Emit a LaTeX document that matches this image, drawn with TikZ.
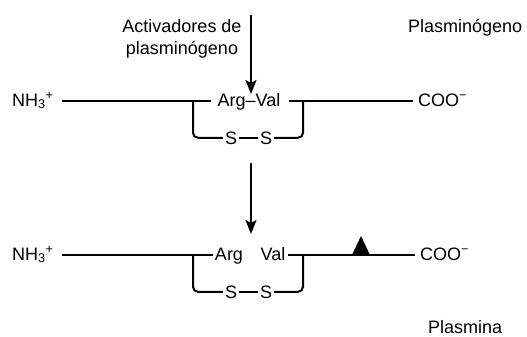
\documentclass[tikz,border=0pt]{standalone}
\usepackage{fontspec}
\setmainfont{Liberation Sans}
\usetikzlibrary{arrows.meta}
\begin{document}
\begin{tikzpicture}[x=1pt,y=-1pt,
  lbl/.style={inner sep=0pt, font=\fontsize{18}{22}\selectfont},
  heavy/.style={line width=2pt},
  light/.style={line width=1.1pt},
  bracket/.style={line width=2pt, rounded corners=5pt},
  arr/.style={line width=2pt,-{Stealth[length=14pt,width=11pt,inset=3pt]}}]
\useasboundingbox (0,0) rectangle (527,337);

% labels
\node[lbl, align=center, anchor=center] (act) at (182,39) {Activadores de\\plasminógeno};
\node[lbl, anchor=base west] (plg) at (408,33) {Plasminógeno};
\node[lbl, anchor=base west] (pla) at (428,333) {Plasmina};

% ---- top row ----
\node[lbl, anchor=base west] (nh1) at (12,106) {NH\textsubscript{3}\textsuperscript{+}};
\node[lbl, anchor=base west] (coo1) at (418,106) {COO\textsuperscript{−}};
\node[lbl, anchor=base] (av) at (249,106) {Arg–Val};
\node[lbl, anchor=base] (s1) at (231,144) {S};
\node[lbl, anchor=base] (s2) at (266,144) {S};
\coordinate (l1) at (62,101);
\coordinate (b1l) at (193,101);
\coordinate (b1r) at (303,101);
\coordinate (r1) at (413,101);
\coordinate (t1) at (211,101);
\coordinate (t2) at (289,101);
\draw[heavy] (l1) -- (b1l);
\draw[light] (b1l) -- (t1);
\draw[light] (t2) -- (b1r);
\draw[heavy] (b1r) -- (r1);
\draw[bracket] (b1l) |- ([xshift=-2pt]s1.west);
\draw[heavy] ([xshift=2pt]s1.east) -- ([xshift=-2pt]s2.west);
\draw[bracket] ([xshift=2pt]s2.east) -| (b1r);

% arrows
\coordinate (a1s) at (251,15);
\coordinate (a1e) at (251,94);
\draw[arr] (a1s) -- (a1e);
\coordinate (a2s) at (251,163);
\coordinate (a2e) at (251,234);
\draw[arr] (a2s) -- (a2e);

% ---- bottom row ----
\node[lbl, anchor=base west] (nh2) at (12,260) {NH\textsubscript{3}\textsuperscript{+}};
\node[lbl, anchor=base west] (coo2) at (420,260) {COO\textsuperscript{−}};
\node[lbl, anchor=base] (arg) at (229,260) {Arg};
\node[lbl, anchor=base] (val) at (273,260) {Val};
\node[lbl, anchor=base] (s3) at (231,298) {S};
\node[lbl, anchor=base] (s4) at (266,298) {S};
\coordinate (l2) at (62,255);
\coordinate (b2l) at (193,255);
\coordinate (b2r) at (303,255);
\coordinate (r2) at (415,255);
\coordinate (t3) at (213,255);
\coordinate (t4) at (288,255);
\draw[heavy] (l2) -- (b2l);
\draw[light] (b2l) -- (t3);
\draw[light] (t4) -- (b2r);
\draw[light] (b2r) -- (r2);
\draw[bracket] (b2l) |- ([xshift=-2pt]s3.west);
\draw[heavy] ([xshift=2pt]s3.east) -- ([xshift=-2pt]s4.west);
\draw[bracket] ([xshift=2pt]s4.east) -| (b2r);
\coordinate (tri) at (361,236);
\fill (tri) -- (370,255) -- (352,255) -- cycle;
\end{tikzpicture}
\end{document}
